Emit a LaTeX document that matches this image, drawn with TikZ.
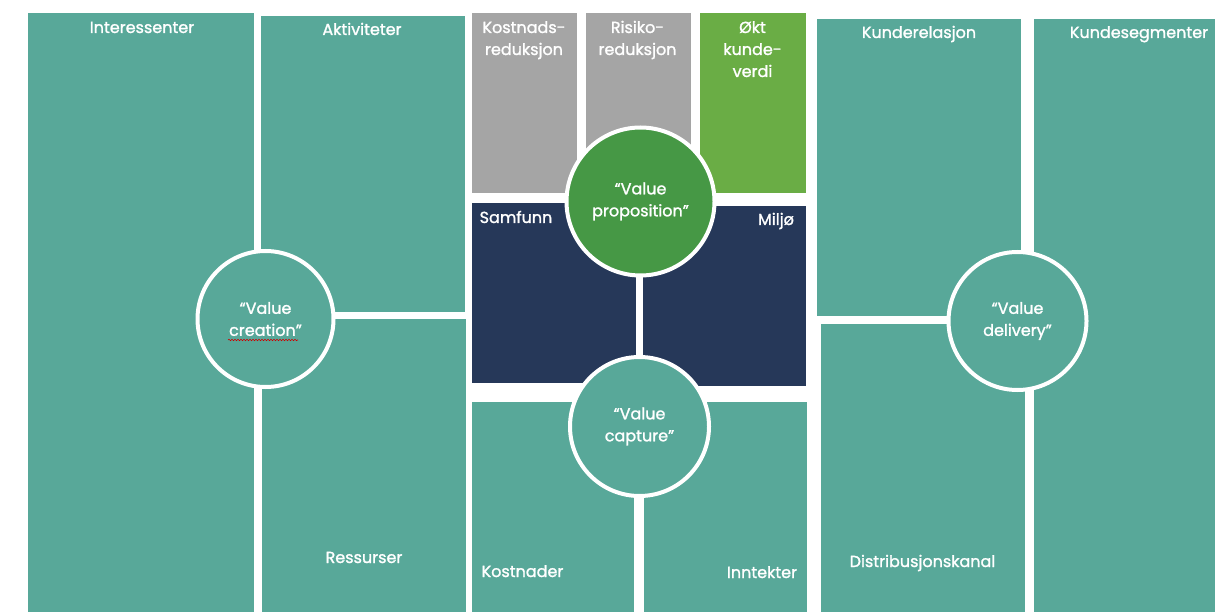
\documentclass[tikz,border=0pt]{standalone}
\usepackage{fontspec}
\setmainfont{Poppins}[UprightFeatures={FakeBold=1.4}]
\usetikzlibrary{positioning,decorations.pathmorphing}

\definecolor{bmcteal}{RGB}{88,168,153}
\definecolor{bmcgray}{RGB}{165,165,165}
\definecolor{bmclime}{RGB}{106,173,69}
\definecolor{bmcgreen}{RGB}{70,152,69}
\definecolor{bmcnavy}{RGB}{38,56,89}

\begin{document}
\begin{tikzpicture}[x=1pt, y=-1pt,
    blk/.style={rectangle, inner sep=0pt, outer sep=0pt, anchor=north west},
    hub/.style={circle, draw=white, line width=4pt, inner sep=0pt, text=white, align=center,
        font=\fontsize{16}{22}\selectfont},
    lbl/.style={text=white, align=center, inner sep=0pt, anchor=base,
        font=\fontsize{16}{22}\selectfont}]
    \clip (0,0) rectangle (1215,612);
    \fill[white] (0,0) rectangle (1215,612);

    % value creation
    \node[blk, fill=bmcteal, minimum width=226, minimum height=605] (interessenter) at (28,13) {};
    \node[blk, fill=bmcteal, minimum width=204, minimum height=296] (aktiviteter) at (261,16) {};
    \node[blk, fill=bmcteal, minimum width=204, minimum height=300] (ressurser) at (262,319) {};

    % value proposition
    \node[blk, fill=bmcgray, minimum width=105, minimum height=180] (kostred) at (472,13) {};
    \node[blk, fill=bmcgray, minimum width=105, minimum height=180] (risred) at (586,13) {};
    \node[blk, fill=bmclime, minimum width=106, minimum height=180] (kundeverdi) at (700,13) {};
    \node[blk, fill=bmcnavy, minimum width=164, minimum height=180] (samfunn) at (472,203) {};
    \node[blk, fill=bmcnavy, minimum width=163, minimum height=180] (miljo) at (643,206) {};

    % value capture
    \node[blk, fill=bmcteal, minimum width=162, minimum height=215] (kostnader) at (472,402) {};
    \node[blk, fill=bmcteal, minimum width=163, minimum height=215] (inntekter) at (644,402) {};

    % value delivery
    \node[blk, fill=bmcteal, minimum width=204, minimum height=297] (kunderel) at (817,19) {};
    \node[blk, fill=bmcteal, minimum width=200, minimum height=600] (kundeseg) at (1034,19) {};
    \node[blk, fill=bmcteal, minimum width=204, minimum height=295] (distkanal) at (821,324) {};

    % hubs
    \node[hub, fill=bmcteal, minimum size=136] (creation) at (265.5,319) {“Value\\creation”};
    \node[hub, fill=bmcgreen, minimum size=148] (proposition) at (640.5,201.5) {“Value\\proposition”};
    \node[hub, fill=bmcteal, minimum size=139] (capture) at (639.5,426.5) {“Value\\capture”};
    \node[hub, fill=bmcteal, minimum size=138] (delivery) at (1017.5,321) {“Value\\delivery”};
    \draw[red!80!black, line width=0.6pt, decoration={snake, amplitude=0.7pt, segment length=3pt},
        decorate] (228,340) -- (298,340);

    % labels (base = last line)
    \node[lbl] (lbl-interessenter) at (142,33) {Interessenter};
    \node[lbl] (lbl-aktiviteter) at (362,35) {Aktiviteter};
    \node[lbl] (lbl-ressurser) at (364,563) {Ressurser};
    \node[lbl] (lbl-kostred) at (524,55) {Kostnads-\\reduksjon};
    \node[lbl] (lbl-risred) at (637.5,55) {Risiko-\\reduksjon};
    \node[lbl] (lbl-kundeverdi) at (752.5,77) {Økt\\kunde-\\verdi};
    \node[lbl] (lbl-samfunn) at (516,223) {Samfunn};
    \node[lbl] (lbl-miljo) at (776,225) {Miljø};
    \node[lbl] (lbl-kostnader) at (522.5,577) {Kostnader};
    \node[lbl] (lbl-inntekter) at (762,578) {Inntekter};
    \node[lbl] (lbl-kunderel) at (919,38) {Kunderelasjon};
    \node[lbl] (lbl-kundeseg) at (1139,38) {Kundesegmenter};
    \node[lbl] (lbl-distkanal) at (922.5,567) {Distribusjonskanal};
\end{tikzpicture}
\end{document}
